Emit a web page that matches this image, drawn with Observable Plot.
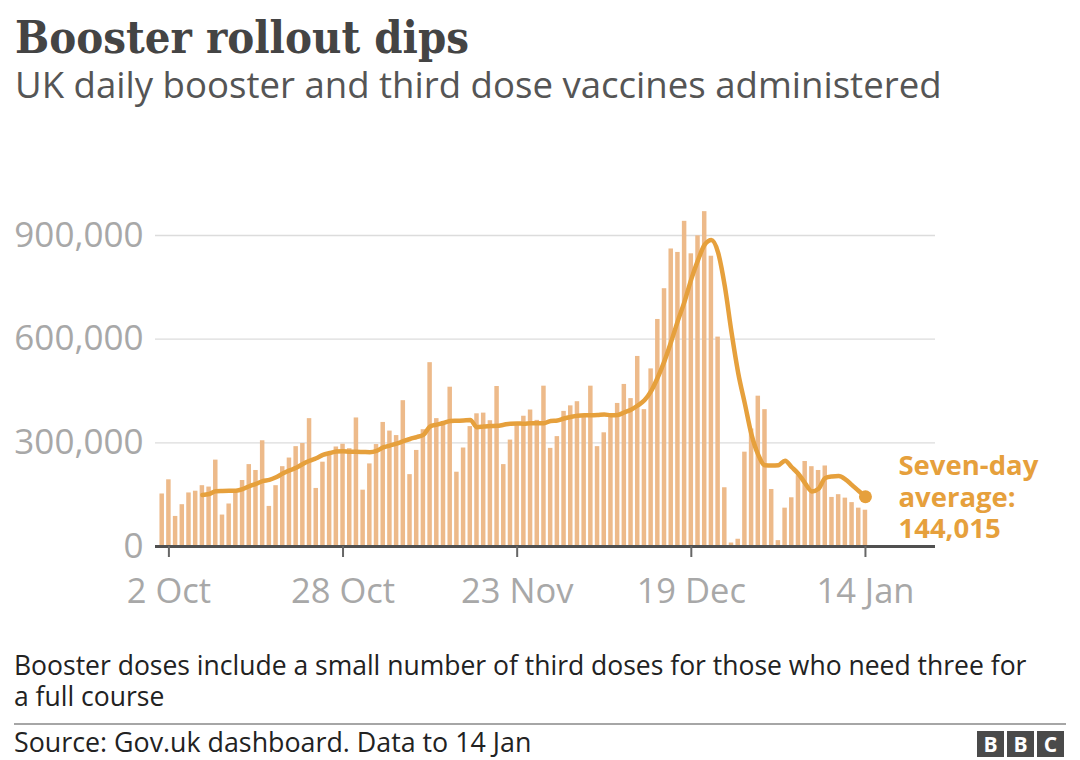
<!DOCTYPE html>
<html><head><meta charset="utf-8">
<script src="https://cdn.jsdelivr.net/npm/d3@7"></script>
<script src="https://cdn.jsdelivr.net/npm/@observablehq/plot@0.6"></script>
<style>
body{margin:0;background:#fff;width:1080px;height:760px;position:relative;overflow:hidden;font-family:"Open Sans",sans-serif;}
#title{position:absolute;left:15px;top:15px;font-family:"DejaVu Serif",serif;font-weight:bold;font-stretch:condensed;font-size:45px;line-height:1;color:#444;white-space:nowrap}
#subtitle{position:absolute;left:15px;top:66px;font-size:36.6px;line-height:1;color:#555;white-space:nowrap}
#chart{position:absolute;left:0;top:120px}
#note{position:absolute;left:14px;top:650px;font-size:26.5px;line-height:31px;color:#222;white-space:nowrap}
#rule{position:absolute;left:14px;top:723px;width:1052px;height:2px;background:#a6a6a6}
#source{position:absolute;left:14px;top:726px;font-size:26.8px;line-height:31px;color:#222;white-space:nowrap}
#bbc{position:absolute;left:977px;top:731px;display:flex;gap:3px}
#bbc span{width:27px;height:26px;background:#4a4a4a;color:#fff;font:bold 21px "Open Sans",sans-serif;display:flex;align-items:center;justify-content:center}
</style></head><body>
<div id="title">Booster rollout dips</div>
<div id="subtitle">UK daily booster and third dose vaccines administered</div>
<div id="chart"></div>
<div id="note">Booster doses include a small number of third doses for those who need three for<br>a full course</div>
<div id="rule"></div>
<div id="source">Source: Gov.uk dashboard. Data to 14 Jan</div>
<div id="bbc"><span>B</span><span>B</span><span>C</span></div>
<script>
// Daily booster and third doses, 1 Oct 2021 – 14 Jan 2022 (thousands)
const firstDay = "2021-10-01";
const lastDay = "2022-01-14";
const boosterDoses = [
  152,193,87,121,155,160,176,172,250,91,123,157,191,237,220,306,116,176,231,256,289,298,370,168,244,268,288,296,
  283,372,163,239,295,359,334,321,422,208,278,338,532,370,353,461,215,285,347,384,386,364,463,237,308,351,377,395,365,
  464,284,318,391,407,419,374,464,289,329,377,414,469,428,550,396,514,657,746,861,851,941,847,899,969,840,606,170,10,21,
  273,340,435,396,165,17,111,141,205,246,231,220,233,142,150,140,127,111,105
];
const tickDates = ["2021-10-02","2021-10-28","2021-11-23","2021-12-19","2022-01-14"];
const yTicks = [0,300000,600000,900000];
const averageLabel = "Seven-day\naverage:\n144,015";

const dates = d3.utcDays(new Date(firstDay), d3.utcDay.offset(new Date(lastDay), 1));
const data = dates.map((d,i)=>({date:d, value: boosterDoses[i]*1000}));
const ticks = tickDates.map(s=>new Date(s));
const orange = "#e6a03c";
const fmt = d3.utcFormat("%-d %b");

const chart = Plot.plot({
  width:1080, height:500,
  marginLeft:155, marginRight:145, marginTop:0, marginBottom:74,
  style:{fontFamily:"Open Sans, sans-serif", fontSize:"34px", background:"transparent", overflow:"visible"},
  x:{type:"band", domain:dates, range:[158.35,868.3], paddingInner:0.33, paddingOuter:0.165, align:0.5},
  y:{domain:[0,900000], range:[426,115]},
  marks:[
    Plot.ruleY(yTicks.filter(d=>d>0), {stroke:"#dcdcdc", strokeWidth:1.3}),
    Plot.barY(data, {x:"date", y:"value", fill:"#edba8a"}),
    Plot.ruleY([0], {stroke:"#505050", strokeWidth:3}),
    Plot.axisY({ticks:yTicks, tickSize:0, tickPadding:12, tickFormat:d3.format(","), fill:"#a8a8a8", fontSize:35, label:null}),
    Plot.axisX({ticks:ticks, tickSize:11, tickPadding:21, tickFormat:fmt, stroke:"#666", strokeWidth:2, fill:"#a8a8a8", fontSize:34.5, label:null}),
    Plot.lineY(data, Plot.windowY({k:7, anchor:"end", strict:true}, {x:"date", y:"value", stroke:orange, strokeWidth:4.5, curve:"monotone-x"})),
    Plot.dot(data, Plot.selectLast(Plot.windowY({k:7, anchor:"end"}, {x:"date", y:"value", r:6.5, fill:orange}))),
    Plot.text(data, Plot.selectLast(Plot.windowY({k:7, anchor:"end"}, {x:"date", y:"value", text:()=>averageLabel, dx:33, textAnchor:"start", lineAnchor:"middle", fill:orange, fontWeight:"bold", fontSize:27.5, lineHeight:1.15})))
  ]
});
document.getElementById("chart").appendChild(chart);
</script>
</body></html>
